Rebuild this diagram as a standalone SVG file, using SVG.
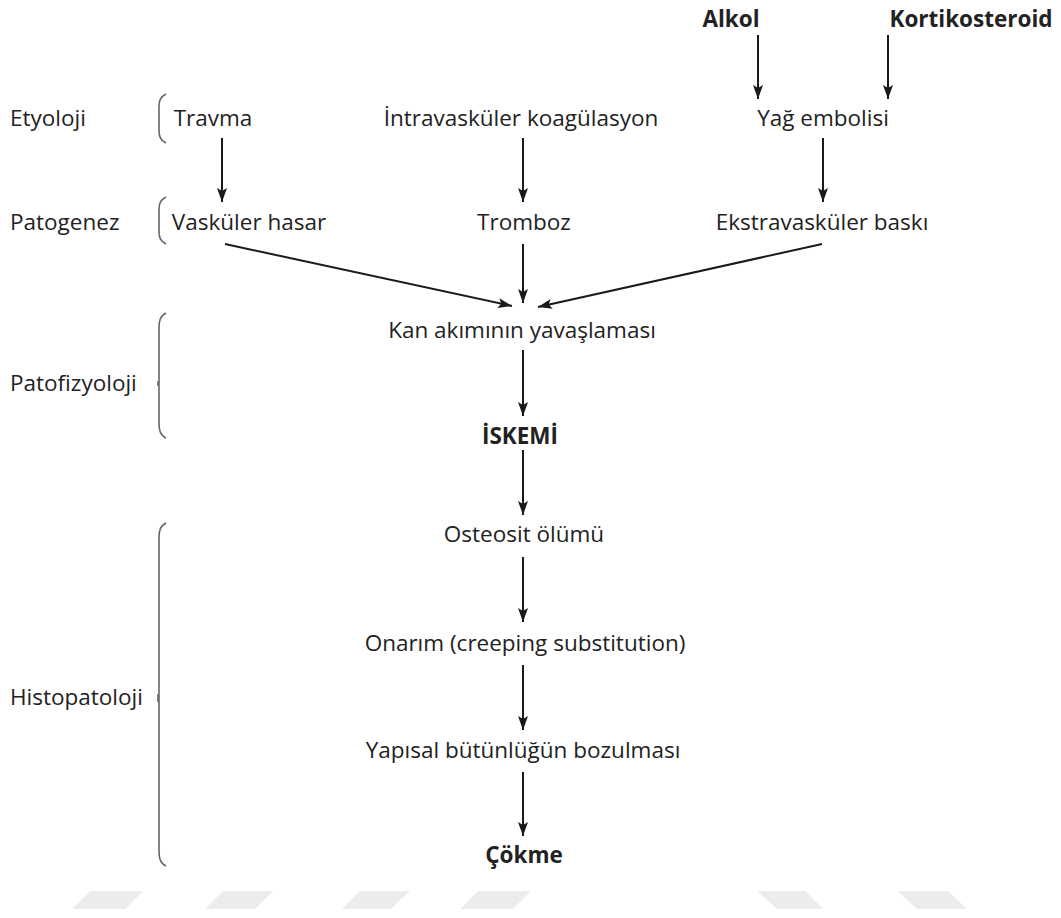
<svg xmlns="http://www.w3.org/2000/svg" width="1061" height="918" viewBox="0 0 1061 918">
<defs>
<marker id="ah" viewBox="0 0 14 10" refX="14" refY="5" markerWidth="14" markerHeight="10" markerUnits="userSpaceOnUse" orient="auto">
<path d="M0,0 L14,5 L0,10 L3,5 Z" fill="#1a1a1a"/>
</marker>
<style>
.t{font-family:"Open Sans","Noto Sans","DejaVu Sans",sans-serif;font-size:22.5px;fill:#222;}
.b{font-weight:bold;}
.m{text-anchor:middle;}
.c{stroke:#1a1a1a;stroke-width:2;fill:none;}
.br{stroke:#666;stroke-width:1.6;fill:none;}
.wm{fill:#ececec;}
</style>
</defs>
<rect width="1061" height="918" fill="#fff"/>
<g id="watermark">
<polygon class="wm" points="90,891 143,891 125,909 72,909"/>
<polygon class="wm" points="223,891 273,891 255,909 205,909"/>
<polygon class="wm" points="360,891 410,891 391,909 342,909"/>
<polygon class="wm" points="478,891 531,891 513,909 460,909"/>
<polygon class="wm" points="757,891 805,891 823,909 777,909"/>
<polygon class="wm" points="898,891 948,891 967,909 917,909"/>
</g>
<g id="brackets">
<path class="br" d="M166,94 C160,97 159,101 159,107 L159,130 C159,136 160,140 166,143"/>
<path class="br" d="M166,197 C160,200 159,204 159,210 L159,231 C159,237 160,241 166,244"/>
<path class="br" d="M166,313 C160,316 159,321 159,328 L159,423 C159,430 160,435 166,438"/>
<line class="br" x1="158" y1="381" x2="158" y2="386"/>
<path class="br" d="M166,523 C160,526 159,531 159,538 L159,851 C159,858 160,863 166,866"/>
<line class="br" x1="158" y1="694" x2="158" y2="702"/>
</g>
<g id="labels">
<text class="t" x="10" y="126">Etyoloji</text>
<text class="t" x="10" y="230">Patogenez</text>
<text class="t" x="10" y="391">Patofizyoloji</text>
<text class="t" x="10" y="705">Histopatoloji</text>
</g>
<g id="n-alkol"><text class="t b m" x="731" y="27">Alkol</text></g>
<g id="n-kortikosteroid"><text class="t b m" x="971" y="27">Kortikosteroid</text></g>
<g id="n-travma"><text class="t m" x="213" y="126">Travma</text></g>
<g id="n-intravaskuler"><text class="t m" x="521" y="126">İntravasküler koagülasyon</text></g>
<g id="n-yag"><text class="t m" x="823" y="126">Yağ embolisi</text></g>
<g id="n-vaskuler"><text class="t m" x="249" y="230">Vasküler hasar</text></g>
<g id="n-tromboz"><text class="t m" x="524" y="230">Tromboz</text></g>
<g id="n-ekstra"><text class="t m" x="822" y="230">Ekstravasküler baskı</text></g>
<g id="n-kan"><text class="t m" x="522" y="338">Kan akımının yavaşlaması</text></g>
<g id="n-iskemi"><text class="t b m" x="520" y="444">İSKEMİ</text></g>
<g id="n-osteosit"><text class="t m" x="524" y="542">Osteosit ölümü</text></g>
<g id="n-onarim"><text class="t m" x="525" y="651">Onarım (creeping substitution)</text></g>
<g id="n-yapisal"><text class="t m" x="523" y="758">Yapısal bütünlüğün bozulması</text></g>
<g id="n-cokme"><text class="t b m" x="524" y="863">Çökme</text></g>
<g id="connectors">
<line class="c" x1="758" y1="35" x2="758" y2="99" marker-end="url(#ah)"/>
<line class="c" x1="888" y1="35" x2="888" y2="99" marker-end="url(#ah)"/>
<line class="c" x1="222" y1="138" x2="222" y2="202" marker-end="url(#ah)"/>
<line class="c" x1="523" y1="138" x2="523" y2="202" marker-end="url(#ah)"/>
<line class="c" x1="823" y1="138" x2="823" y2="202" marker-end="url(#ah)"/>
<line class="c" x1="225" y1="244" x2="512" y2="306" marker-end="url(#ah)"/>
<line class="c" x1="523" y1="244" x2="523" y2="303" marker-end="url(#ah)"/>
<line class="c" x1="822" y1="244" x2="538" y2="307" marker-end="url(#ah)"/>
<line class="c" x1="523" y1="350" x2="523" y2="416" marker-end="url(#ah)"/>
<line class="c" x1="523" y1="450" x2="523" y2="515" marker-end="url(#ah)"/>
<line class="c" x1="523" y1="557" x2="523" y2="622" marker-end="url(#ah)"/>
<line class="c" x1="523" y1="665" x2="523" y2="730" marker-end="url(#ah)"/>
<line class="c" x1="523" y1="772" x2="523" y2="836" marker-end="url(#ah)"/>
</g>
</svg>
